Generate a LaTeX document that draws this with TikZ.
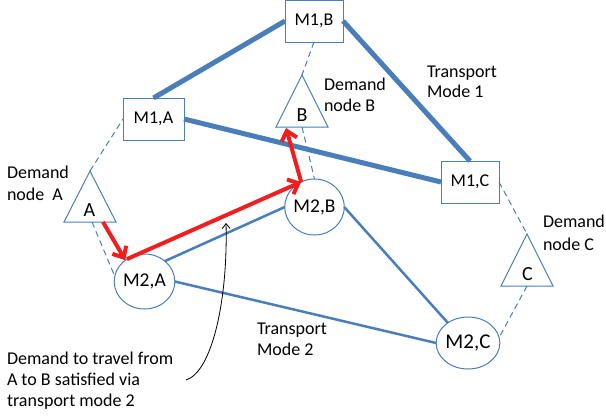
\documentclass[tikz,border=0pt]{standalone}
\usepackage{fontspec}
\setmainfont{Carlito}
\usetikzlibrary{shapes.geometric,arrows.meta}
\definecolor{mblue}{RGB}{74,126,187}
\definecolor{mred}{RGB}{240,30,30}
\tikzset{
  lbl/.style={inner sep=0pt, outer sep=0pt, anchor=base west, align=left},
  mbox/.style={draw=mblue, line width=1pt, minimum width=58pt, minimum height=42pt, inner sep=0pt, outer sep=0pt, font=\fontsize{18}{21}\selectfont},
  mell/.style={ellipse, draw=mblue, line width=1pt, inner sep=0pt, outer sep=0pt, font=\fontsize{19.5}{21}\selectfont},
  tri/.style={draw=mblue, line width=1pt},
  trilbl/.style={font=\fontsize{20}{22}\selectfont, inner sep=0pt, anchor=base},
  demand/.style={draw=mblue, line width=1pt, dash pattern=on 6pt off 4pt},
  modeone/.style={draw=mblue, line width=5pt},
  modetwo/.style={draw=mblue, line width=2.5pt},
  route/.style={draw=mred, line width=4pt, -{Straight Barb[length=9pt,width=16pt,line width=4pt]}},
  pointer/.style={draw=black, line width=0.8pt, -{Straight Barb[length=5pt,width=8pt,line width=0.8pt]}}
}
\begin{document}
\begin{tikzpicture}[x=1pt,y=-1pt]
\useasboundingbox (0,0) rectangle (606,416);
% mode 1 nodes
\node[mbox, minimum width=61pt] (M1A) at (153.5,119) {M1,A};
\node[mbox] (M1B) at (314,21) {M1,B};
\node[mbox] (M1C) at (470,182) {M1,C};
% mode 2 nodes
\node[mell, minimum width=57pt, minimum height=55pt] (M2A) at (144.5,281.5) {M2,A};
\node[mell, minimum width=55pt, minimum height=56pt] (M2B) at (314.5,207) {M2,B};
\node[mell, minimum width=61pt, minimum height=52pt, font=\fontsize{21}{22}\selectfont] (M2C) at (468,343) {M2,C};
% demand triangles
\coordinate (Atop) at (90,171);
\coordinate (Btop) at (302,75);
\coordinate (Ctop) at (527,234);
\draw[tri] (Atop) -- ++(-26,51) -- ++(52,0) -- cycle;
\draw[tri] (Btop) -- ++(-26,52) -- ++(52,0) -- cycle;
\draw[tri] (Ctop) -- ++(-26,52) -- ++(52,0) -- cycle;
\node[trilbl] (A) at (89.5,216.5) {A};
\node[trilbl] (B) at (302,121) {B};
\node[trilbl] (C) at (527.5,280) {C};
\coordinate (Abase) at (92,222);
\coordinate (Bbase) at (302,127);
\coordinate (Cbase) at (527,286);
\coordinate (Ared) at (103,222);
\coordinate (Bred) at (286,128);
% dashed access links
\draw[demand] (Atop) -- (M1A.west);
\draw[demand] (Abase) -- (M2A.170);
\draw[demand] (M1B.south) -- (Btop);
\draw[demand] (Bbase) -- (M2B.north);
\draw[demand] (M1C.east) -- (Ctop);
\draw[demand] (Cbase) -- (M2C.10);
% mode 1 links
\draw[modeone] (M1A.north) -- (M1B.west);
\draw[modeone] (M1B.east) -- (M1C.north);
\draw[modeone] (M1A.east) -- (M1C.west);
% mode 2 links
\draw[modetwo] (M2A.45) -- (M2B.west);
\draw[modetwo] (M2A.east) -- (M2C.west);
\draw[modetwo] (M2B.east) -- (M2C.135);
% route
\draw[route] (Ared) -- (M2A.132);
\draw[route] (M2A.128) -- (M2B.118);
\draw[route] (M2B.118) -- (Bred);
% labels (base anchor = baseline of last line)
\node[lbl, font=\fontsize{18}{22}\selectfont] (dA) at (7,200) {Demand\\node~~A};
\node[lbl, font=\fontsize{18}{21}\selectfont] (dB) at (324,111) {Demand\\node B};
\node[lbl, font=\fontsize{18}{23}\selectfont] (dC) at (543,250) {Demand\\node C};
\node[lbl, font=\fontsize{18}{20}\selectfont] (t1) at (427,97) {Transport\\Mode 1};
\node[lbl, font=\fontsize{18}{21}\selectfont] (t2) at (257,355) {Transport\\Mode 2};
\node[lbl, font=\fontsize{18}{21}\selectfont] (note) at (7,406) {Demand to travel from\\A to B satisfied via\\transport mode 2};
\coordinate (noteend) at (186,380);
\coordinate (anntip) at (226,223);
\draw[pointer] (noteend) .. controls (212,372) and (228,300) .. (anntip);
\end{tikzpicture}
\end{document}
